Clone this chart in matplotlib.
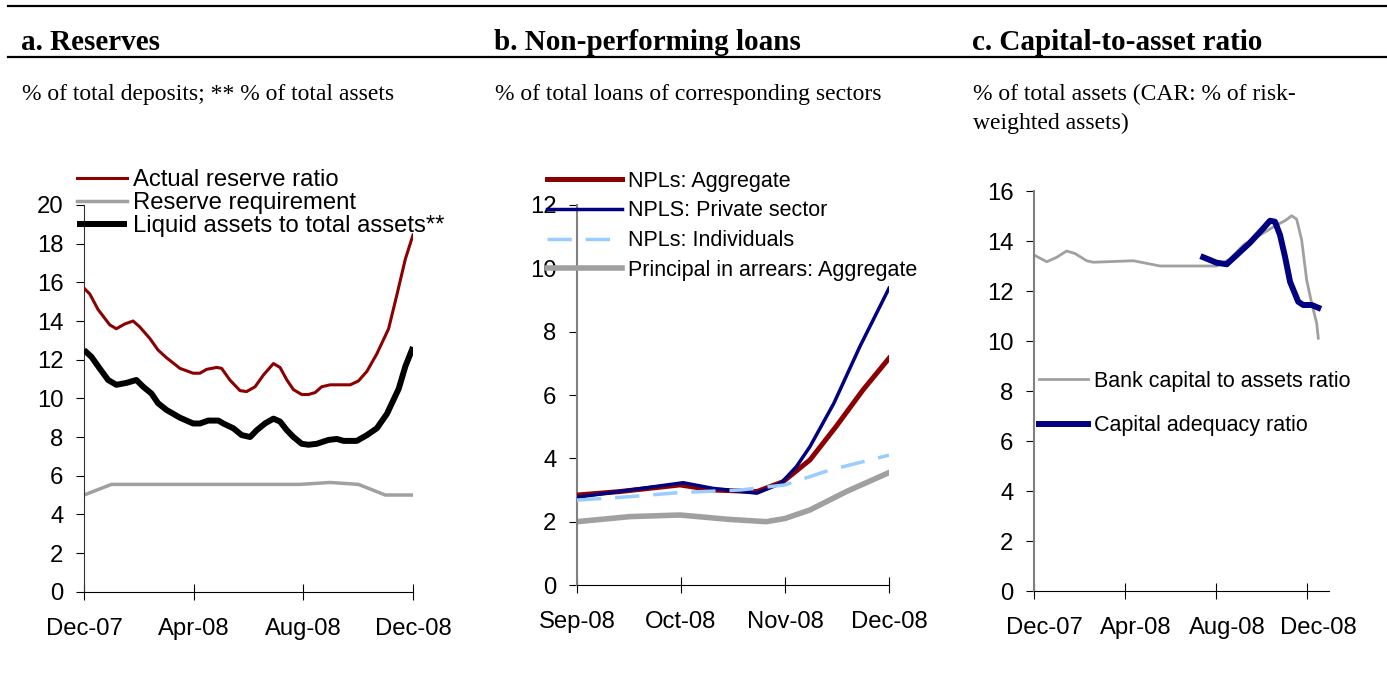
import matplotlib
matplotlib.use("Agg")
import matplotlib.pyplot as plt
from matplotlib.lines import Line2D

# ---------------- data ----------------
# Panel a (x in months since Dec-07)
actual_x = [0.0, 0.21, 0.51, 0.94, 1.18, 1.49, 1.79, 2.03, 2.40, 2.70, 3.01, 3.50, 3.98, 4.23,
            4.47, 4.84, 5.02, 5.32, 5.69, 5.93, 6.24, 6.54, 6.91, 7.15, 7.40, 7.64, 7.94, 8.19,
            8.43, 8.67, 8.98, 9.71, 10.01, 10.32, 10.68, 11.11, 11.42, 11.72, 12.0]
actual_y = [15.7, 15.4, 14.6, 13.8, 13.6, 13.85, 14.0, 13.7, 13.1, 12.5, 12.1, 11.55, 11.3, 11.3,
            11.5, 11.6, 11.55, 10.95, 10.4, 10.35, 10.6, 11.2, 11.8, 11.6, 10.95, 10.45, 10.2, 10.2,
            10.3, 10.6, 10.7, 10.7, 10.9, 11.4, 12.3, 13.6, 15.4, 17.2, 18.45]
req_x = [0.0, 1.0, 7.88, 8.98, 10.01, 10.99, 12.0]
req_y = [5.0, 5.55, 5.55, 5.65, 5.55, 5.0, 5.0]
liquid_x = [0.0, 0.27, 0.57, 0.88, 1.18, 1.55, 1.91, 2.16, 2.46, 2.70, 3.01, 3.50, 3.98, 4.23,
            4.53, 4.90, 5.08, 5.45, 5.75, 6.06, 6.30, 6.60, 6.91, 7.15, 7.40, 7.64, 7.94, 8.19,
            8.49, 8.92, 9.22, 9.47, 9.95, 10.32, 10.68, 11.05, 11.48, 11.72, 12.0]
liquid_y = [12.5, 12.15, 11.55, 10.95, 10.7, 10.8, 10.95, 10.6, 10.25, 9.75, 9.4, 9.0, 8.7, 8.7,
            8.85, 8.85, 8.7, 8.45, 8.1, 8.0, 8.35, 8.7, 8.95, 8.8, 8.35, 8.0, 7.65, 7.6,
            7.65, 7.85, 7.9, 7.8, 7.8, 8.1, 8.45, 9.2, 10.5, 11.65, 12.65]
a_ticks = [0, 4, 8, 12]
a_labels = ["Dec-07", "Apr-08", "Aug-08", "Dec-08"]

# Panel b (x in months since Sep-08)
agg_x = [0.0, 0.41, 0.99, 1.31, 1.73, 1.98, 2.24, 2.49, 2.75, 3.0]
agg_y = [2.84, 2.95, 3.16, 3.0, 2.95, 3.26, 3.95, 5.0, 6.16, 7.16]
priv_x = [0.0, 0.51, 1.02, 1.31, 1.73, 1.96, 2.11, 2.24, 2.47, 2.72, 3.0]
priv_y = [2.77, 3.0, 3.23, 3.05, 2.9, 3.21, 3.74, 4.37, 5.74, 7.53, 9.37]
ind_x = [0.0, 0.51, 0.99, 1.57, 2.0, 2.43, 3.0]
ind_y = [2.68, 2.79, 2.92, 3.0, 3.16, 3.63, 4.1]
arr_x = [0.0, 0.51, 0.99, 1.47, 1.82, 2.0, 2.24, 2.59, 3.0]
arr_y = [2.0, 2.16, 2.21, 2.07, 2.0, 2.1, 2.37, 2.95, 3.55]
b_ticks = [0, 1, 2, 3]
b_labels = ["Sep-08", "Oct-08", "Nov-08", "Dec-08"]

# Panel c (x in months since Dec-07)
bank_x = [0.0, 0.56, 1.0, 1.43, 1.8, 2.31, 2.6, 4.36, 5.53, 8.02, 8.6, 9.19, 9.92, 10.65,
          11.02, 11.31, 11.53, 11.75, 11.97, 12.19, 12.41, 12.48]
bank_y = [13.44, 13.17, 13.35, 13.6, 13.5, 13.21, 13.15, 13.21, 13.0, 13.0, 13.27, 13.84, 14.24,
          14.64, 14.81, 15.01, 14.87, 14.04, 12.44, 11.51, 10.71, 10.11]
car_x = [7.43, 8.02, 8.46, 8.9, 9.48, 10.0, 10.36, 10.58, 10.8, 11.02, 11.24, 11.6, 11.82,
         12.19, 12.48]
car_y = [13.35, 13.13, 13.07, 13.44, 13.93, 14.44, 14.81, 14.77, 14.24, 13.37, 12.37, 11.57,
         11.44, 11.44, 11.33]
c_ticks = [0, 4, 8, 12]
c_labels = ["Dec-07", "Apr-08", "Aug-08", "Dec-08"]

titles = ["a. Reserves", "b. Non-performing loans", "c. Capital-to-asset ratio"]
subtitles = ["% of total deposits; ** % of total assets",
             "% of total loans of corresponding sectors",
             "% of total assets (CAR: % of risk-"]
subtitle_c2 = "weighted assets)"

# ---------------- style ----------------
W, H = 1387, 674
FS = 17.2
FS_LEG_SMALL = 15.5
SANS = "Liberation Sans"
SERIF = "Liberation Serif"
plt.rcParams["font.family"] = [SANS, "DejaVu Sans"]

DARKRED = "#8B0000"
NAVY = "#000080"
LIGHTBLUE = "#99CCFF"
GRAY = "#A0A0A0"

fig = plt.figure(figsize=(W / 100, H / 100), dpi=100)


def px_axes(x0, x1, y0, y1):
    # x0,x1 left/right pixel; y0 = pixel of bottom (from top), y1 = pixel of top (from top)
    return fig.add_axes([x0 / W, (H - y0) / H, (x1 - x0) / W, (y0 - y1) / H])


def style(ax, ycolor, ylw):
    for s in ("top", "right"):
        ax.spines[s].set_visible(False)
    ax.spines["left"].set_color(ycolor)
    ax.spines["left"].set_linewidth(ylw)
    ax.spines["bottom"].set_color("black")
    ax.spines["bottom"].set_linewidth(0.8)
    ax.tick_params(axis="y", direction="out", length=5.8, width=0.8, pad=9,
                   labelsize=FS, color="black")
    ax.tick_params(axis="x", direction="inout", length=11.5, width=0.8, pad=13,
                   labelsize=FS, color="black")
    ax.patch.set_visible(False)


# Panel a
ax1 = px_axes(84, 413, 591.7, 205)
ax1.plot(actual_x, actual_y, color=DARKRED, lw=2.2, label="Actual reserve ratio", zorder=3)
ax1.plot(req_x, req_y, color=GRAY, lw=2.5, label="Reserve requirement", zorder=2)
ax1.plot(liquid_x, liquid_y, color="black", lw=4.3, label="Liquid assets to total assets**",
         zorder=4, solid_capstyle="butt")
ax1.set_xlim(0, 12)
ax1.set_ylim(0, 20)
ax1.set_yticks(range(0, 21, 2))
ax1.set_xticks(a_ticks)
ax1.set_xticklabels(a_labels)
style(ax1, "#333333", 0.8)
ax1.legend(loc="upper left", bbox_to_anchor=(77 / W, 1 - 169 / H), bbox_transform=fig.transFigure,
           frameon=False, fontsize=FS, handlelength=2.1, handletextpad=0.25,
           labelspacing=0.04, borderpad=0, borderaxespad=0)

# Panel b
ax2 = px_axes(577, 889, 585, 205)
ax2.plot(arr_x, arr_y, color=GRAY, lw=4.0, label="Principal in arrears: Aggregate", zorder=2)
ax2.plot(agg_x, agg_y, color=DARKRED, lw=3.6, label="NPLs: Aggregate", zorder=3)
ax2.plot(priv_x, priv_y, color=NAVY, lw=2.5, label="NPLS: Private sector", zorder=4)
ax2.plot(ind_x, ind_y, color=LIGHTBLUE, lw=2.5, dashes=(7, 4), label="NPLs: Individuals",
         zorder=5)
ax2.set_xlim(0, 3)
ax2.set_ylim(0, 12)
ax2.set_yticks(range(0, 13, 2))
ax2.set_xticks(b_ticks)
ax2.set_xticklabels(b_labels)
style(ax2, "#808080", 1.5)
h, l = ax2.get_legend_handles_labels()
order = [1, 2, 3, 0]
ax2.legend([h[i] for i in order], [l[i] for i in order], loc="upper left",
           bbox_to_anchor=(547 / W, 1 - 170.5 / H), bbox_transform=fig.transFigure,
           frameon=False, fontsize=FS_LEG_SMALL, handlelength=3.49, handletextpad=0.28,
           labelspacing=0.41, borderpad=0, borderaxespad=0)

# Panel c
ax3 = px_axes(1034, 1329, 591, 191)
ax3.plot(bank_x, bank_y, color=GRAY, lw=2.0, label="Bank capital to assets ratio", zorder=2)
ax3.plot(car_x, car_y, color=NAVY, lw=4.3, label="Capital adequacy ratio", zorder=3)
ax3.set_xlim(0, 12.95)
ax3.set_ylim(0, 16)
ax3.set_yticks(range(0, 17, 2))
ax3.set_xticks(c_ticks)
ax3.set_xticklabels([])
ax3.set_xticks([t + 0.47 for t in c_ticks], minor=True)
ax3.set_xticklabels(c_labels, minor=True)
style(ax3, "#808080", 1.5)
ax3.tick_params(axis="x", which="minor", length=0, pad=19, labelsize=FS)
ax3.legend(loc="upper left", bbox_to_anchor=(1039 / W, 1 - 371 / H), bbox_transform=fig.transFigure,
           frameon=False, fontsize=FS_LEG_SMALL, handlelength=2.28, handletextpad=0.28,
           labelspacing=1.09, borderpad=0, borderaxespad=0)

# Header text and rules
title_x = [21, 494, 972]
for tx, t, st in zip(title_x, titles, subtitles):
    fig.text(tx / W, 1 - 50 / H, t, family=SERIF, weight="bold", fontsize=21, va="baseline")
    fig.text((tx + 1) / W, 1 - 100 / H, st, family=SERIF, fontsize=17, va="baseline")
fig.text(973 / W, 1 - 129 / H, subtitle_c2, family=SERIF, fontsize=17, va="baseline")

fig.add_artist(Line2D([8 / W, 1], [1 - 5.7 / H, 1 - 5.7 / H], color="black", lw=1.6,
                      transform=fig.transFigure))
fig.add_artist(Line2D([8 / W, 1], [1 - 57 / H, 1 - 57 / H], color="black", lw=1.6,
                      transform=fig.transFigure))

fig.savefig("out.png", dpi=100)
